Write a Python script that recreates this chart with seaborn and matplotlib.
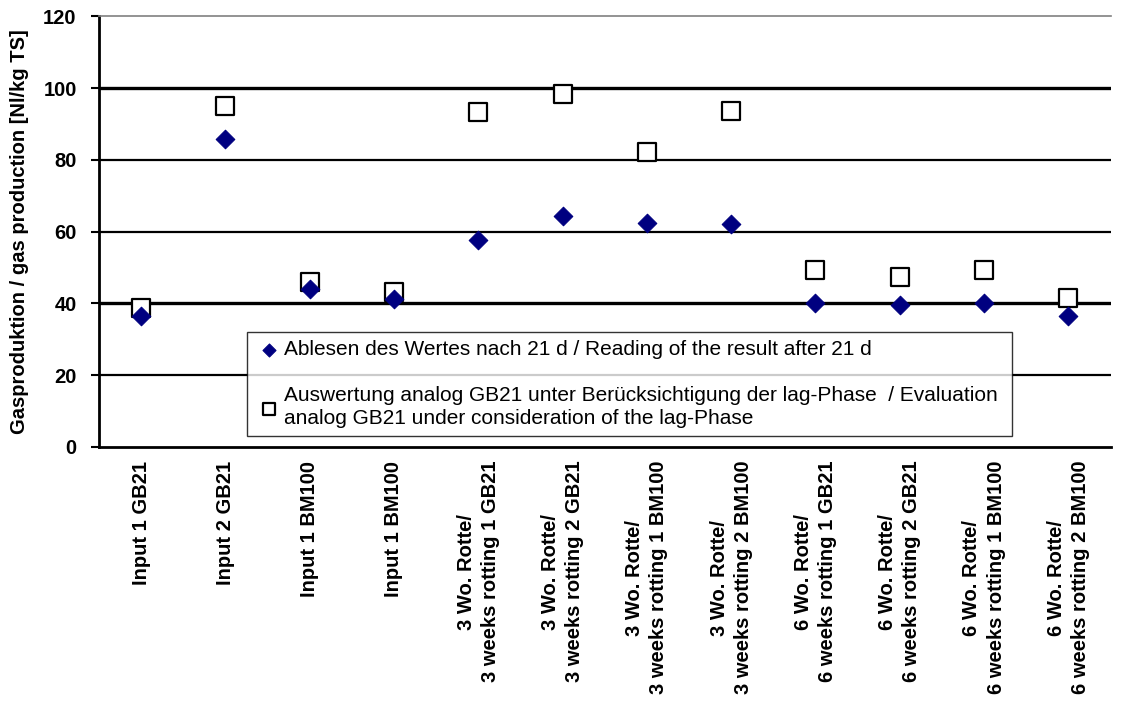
import pandas as pd
import matplotlib.pyplot as plt
import seaborn as sns

# sample names (two-line tick labels)
categories = [
    'Input 1 GB21', 'Input 2 GB21', 'Input 1 BM100', 'Input 1 BM100',
    '3 Wo. Rotte/\n3 weeks rotting 1 GB21', '3 Wo. Rotte/\n3 weeks rotting 2 GB21',
    '3 Wo. Rotte/\n3 weeks rotting 1 BM100', '3 Wo. Rotte/\n3 weeks rotting 2 BM100',
    '6 Wo. Rotte/\n6 weeks rotting 1 GB21', '6 Wo. Rotte/\n6 weeks rotting 2 GB21',
    '6 Wo. Rotte/\n6 weeks rotting 1 BM100', '6 Wo. Rotte/\n6 weeks rotting 2 BM100',
]
reading_21d = [36.5, 85.8, 44.0, 41.2, 57.7, 64.4, 62.4, 62.1, 40.1, 39.4, 40.1, 36.5]
lag_phase = [38.7, 95.0, 46.0, 43.2, 93.4, 98.3, 82.2, 93.7, 49.3, 47.4, 49.3, 41.5]

label_reading = 'Ablesen des Wertes nach 21 d / Reading of the result after 21 d'
label_lag = ('Auswertung analog GB21 unter Berücksichtigung der lag-Phase  / Evaluation\n'
             'analog GB21 under consideration of the lag-Phase')

df = pd.DataFrame({'sample': categories, 'reading': reading_21d, 'lag': lag_phase})
df['pos'] = range(len(df))

sns.set_style('white')
plt.rcParams['font.family'] = ['Liberation Sans', 'DejaVu Sans']
for key in ['text.color', 'axes.labelcolor', 'xtick.color', 'ytick.color']:
    plt.rcParams[key] = 'black'

fig = plt.figure(figsize=(11.24, 7.06), dpi=100)
ax = fig.add_axes([0.088, 0.367, 0.9, 0.61])

# horizontal gridlines
for y in [20, 40, 60, 80, 100]:
    lw = 2.4 if y in (40, 100) else 1.6
    ax.axhline(y, color='black', lw=lw, zorder=1)

sns.scatterplot(data=df, x='pos', y='lag', marker='s', s=150, facecolor='white',
                edgecolor='black', linewidth=1.6, ax=ax, zorder=3, label=label_lag)
sns.scatterplot(data=df, x='pos', y='reading', marker='D', s=90, color='#000080',
                edgecolor='#000080', ax=ax, zorder=4, label=label_reading)

ax.set_xlim(-0.5, len(categories) - 0.5)
ax.set_ylim(0, 120)
ax.set_yticks(range(0, 121, 20))
ax.set_yticklabels([str(v) for v in range(0, 121, 20)], fontsize=14.5, fontweight='bold')
ax.set_xticks(range(len(categories)))
ax.set_xticklabels(categories, rotation=90, fontsize=14.5, fontweight='bold',
                   ha='center', va='top', linespacing=1.35)
ax.set_xticks([i - 0.5 for i in range(len(categories) + 1)], minor=True)
ax.tick_params(axis='x', which='major', length=0, pad=10)
ax.tick_params(axis='x', which='minor', length=6, width=1.5, color='black', direction='out')
ax.tick_params(axis='y', length=6, width=1.5, color='black', direction='out', left=True, pad=10)
ax.set_xlabel('')
ax.set_ylabel('Gasproduktion / gas production [Nl/kg TS]', fontsize=14.5, fontweight='bold', labelpad=10)

for side in ['left', 'bottom']:
    ax.spines[side].set_color('black')
    ax.spines[side].set_linewidth(2)
ax.spines['top'].set_color('#808080')
ax.spines['top'].set_linewidth(1.2)
ax.spines['right'].set_visible(False)

handles, labels = ax.get_legend_handles_labels()
leg = ax.legend(handles[::-1], labels[::-1], loc='lower left',
                bbox_to_anchor=(0.136, 0.0, 0.777, 0.241), mode='expand',
                fontsize=15, frameon=True, fancybox=False, edgecolor='black',
                handletextpad=0.1, labelspacing=1.3, borderpad=0.4, markerscale=0.7,
                handlelength=1.3)
for t in leg.get_texts():
    t.set_linespacing(1.25)
leg.get_frame().set_linewidth(1.0)
leg.set_zorder(5)

fig.savefig('out.png', dpi=100)
